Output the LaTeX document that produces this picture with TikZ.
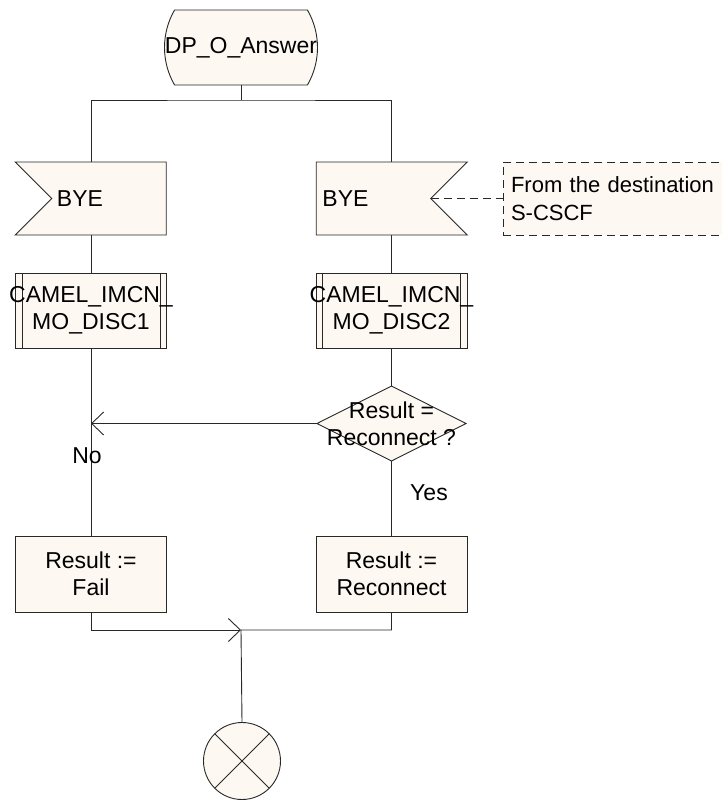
\documentclass[tikz,border=0pt]{standalone}
\usepackage{fontspec}
\setmainfont{Liberation Sans}
\usetikzlibrary{positioning,arrows.meta,shapes.geometric,shapes.misc,shapes.symbols,backgrounds}
\definecolor{sdlfill}{RGB}{253,248,242}
\definecolor{sdlline}{RGB}{40,40,40}
\tikzset{
  sdl/.style={draw=sdlline,fill=sdlfill,line width=.9pt,inner sep=0pt,outer sep=0pt},
  sdltext/.style={font=\fontsize{23}{27}\selectfont,inner sep=0pt,align=center},
  procbox/.style={sdl,minimum width=151pt,minimum height=75pt,
    path picture={\draw[sdlline,line width=.9pt]
      ([xshift=6.5pt]path picture bounding box.north west) -- ([xshift=6.5pt]path picture bounding box.south west)
      ([xshift=-6.5pt]path picture bounding box.north east) -- ([xshift=-6.5pt]path picture bounding box.south east);}},
  inbox/.style={sdl,signal,signal to=nowhere,signal from=#1,minimum width=151pt,minimum height=73pt},
  flow/.style={draw=sdlline,line width=.9pt},
  open/.style={-{Straight Barb[length=12pt,width=23pt]}}
}
\begin{document}
\begin{tikzpicture}[x=1pt,y=-1pt]
\useasboundingbox (0,0) rectangle (721,800);
\node[sdl,rounded rectangle,rounded rectangle arc length=60,minimum width=153pt,minimum height=75pt](start) at (241,47.5){};
\node[sdltext](startt) at (start.center){DP\_O\_Answer};
\coordinate (fork) at (241,100);
\foreach \s/\x/\b/\d in {west/91/109/1,east/391.5/373.5/2}{
  \node[inbox=\s](bye\d) at (\b,198.5){};
  \node[procbox](proc\d) at (\x,310.5){};
  \node[sdltext](proc\d t) at (proc\d.center){CAMEL\_IMCN\_\\MO\_DISC\d};
}
\node[sdltext,anchor=west](bye1t) at ([xshift=5pt]bye1.west){BYE};
\node[sdltext,anchor=west](bye2t) at ([xshift=6pt]bye2.west){BYE};
\node[sdl,sdltext,font=\fontsize{22}{28}\selectfont,dash pattern=on 8pt off 5pt,anchor=west,align=left,text width=270pt,inner xsep=8pt,minimum height=73pt](note) at (503,198.5){From the destination\\S-CSCF};
\node[sdl,diamond,minimum width=149pt,minimum height=75pt](dec) at (391.5,423.5){};
\node[sdltext](dect) at (dec.center){Result =\\Reconnect ?};
\node[sdl,sdltext,minimum width=151pt,minimum height=76pt](task1) at (91,574){Result :=\\Fail};
\node[sdl,sdltext,minimum width=151pt,minimum height=76pt](task2) at (391.5,574){Result :=\\Reconnect};
\node[sdl,circle,minimum size=77pt](stop) at (242,761){};
\coordinate (merge) at (241,630);
\begin{scope}[on background layer]
\draw[flow] (start.south) -- (fork) (proc1.north) |- (fork) -| (proc2.north);
\end{scope}
\draw[flow] (proc1.south) -- (task1.north);
\draw[flow] (proc2.south) -- (dec.north) (dec.south) -- (task2.north);
\draw[flow,open] (dec.west) -- (dec.west -| proc1.south);
\draw[flow,dash pattern=on 8pt off 5pt] (bye2.east) -- (note.west);
\draw[flow,open] (task1.south) |- (merge);
\draw[flow] (task2.south) |- (merge) -- (stop.north);
\draw[flow] (stop.north west) -- (stop.south east) (stop.north east) -- (stop.south west);
\node[sdltext,anchor=base](no) at (87,463){No};
\node[sdltext,anchor=base](yes) at (429,500){Yes};
\end{tikzpicture}
\end{document}
